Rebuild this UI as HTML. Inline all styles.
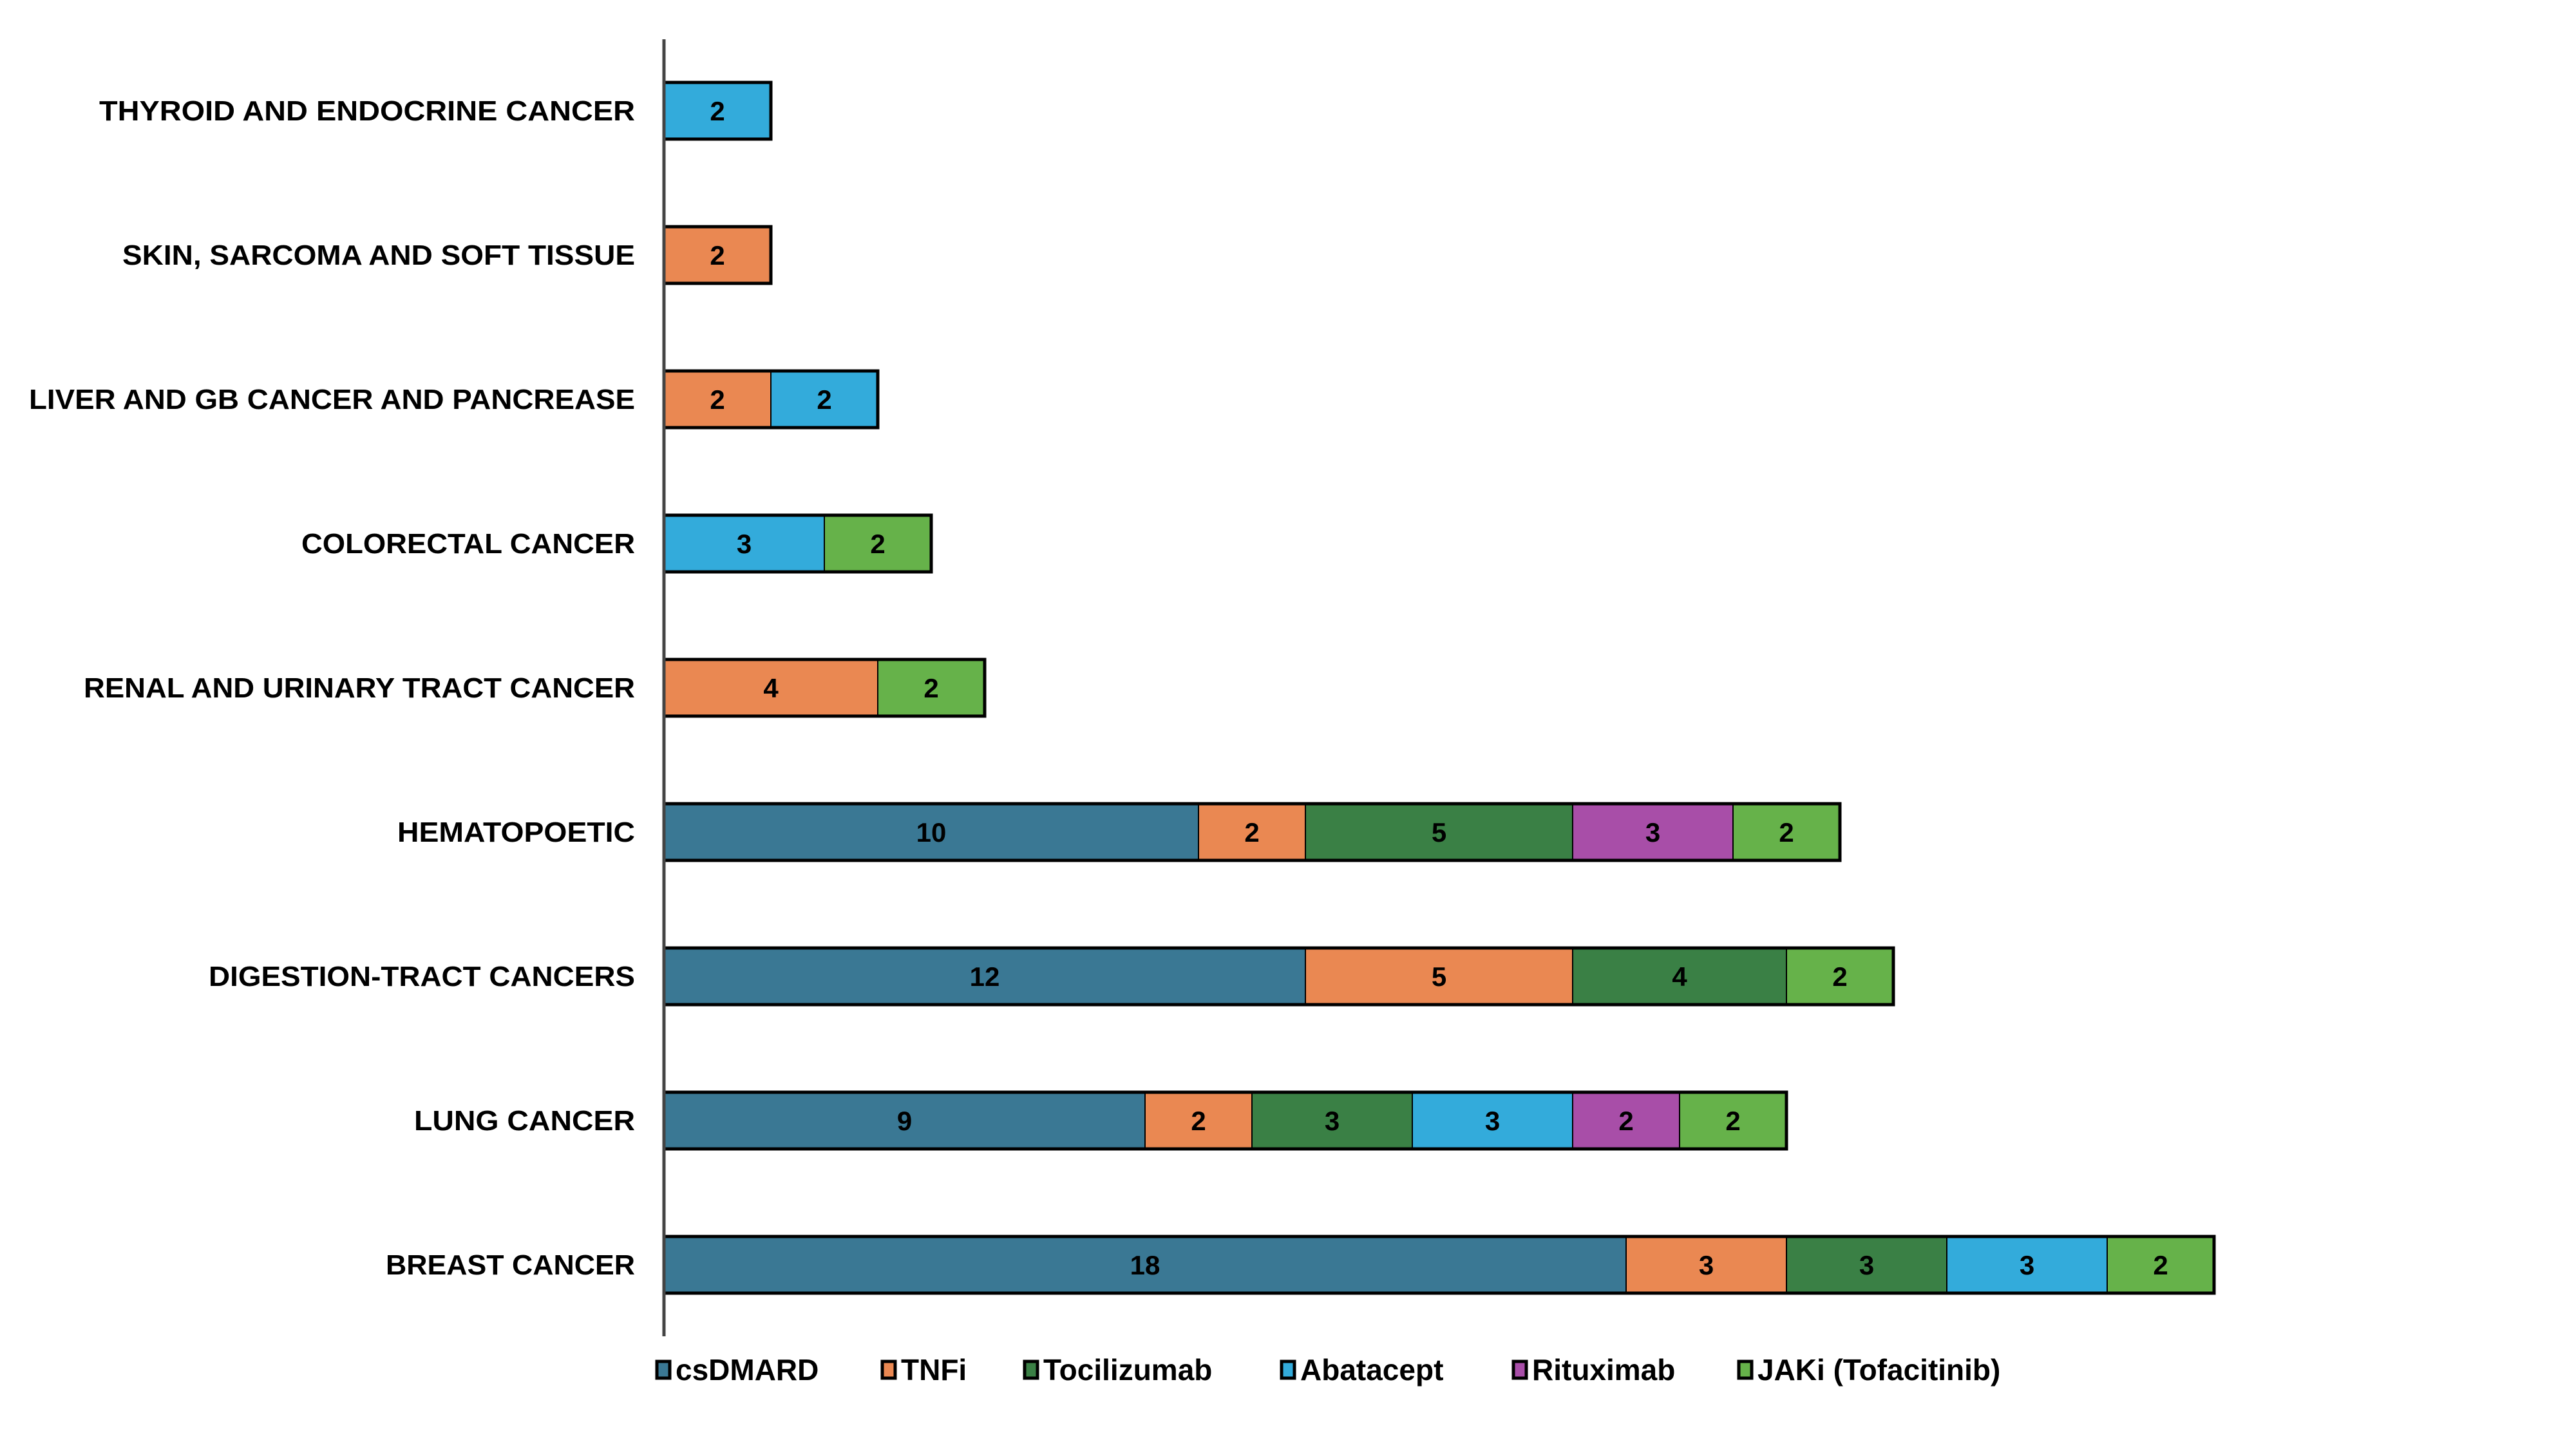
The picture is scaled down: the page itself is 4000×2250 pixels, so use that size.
<!DOCTYPE html>
<html><head><meta charset="utf-8"><style>
html,body{margin:0;padding:0;background:#fff;}
svg{display:block;font-family:"Liberation Sans",sans-serif;font-weight:bold;}
</style></head><body>
<svg id="chart" width="4000" height="2250" viewBox="0 0 4000 2250" xmlns="http://www.w3.org/2000/svg">
<rect width="4000" height="2250" fill="#fff"/>
<g id="bars"></g>
<line x1="1031" y1="61" x2="1031" y2="2075" stroke="#444" stroke-width="5"/>
<g id="labels"></g>
<g id="legend"></g>
</svg>
<script>
const categories = ["THYROID AND ENDOCRINE CANCER","SKIN, SARCOMA AND SOFT TISSUE","LIVER AND GB CANCER AND PANCREASE","COLORECTAL CANCER","RENAL AND URINARY TRACT CANCER","HEMATOPOETIC","DIGESTION-TRACT CANCERS","LUNG CANCER","BREAST CANCER"];
const seriesNames = ["csDMARD","TNFi","Tocilizumab","Abatacept","Rituximab","JAKi (Tofacitinib)"];
const csDMARD     = [0,0,0,0,0,10,12,9,18];
const TNFi        = [0,2,2,0,4,2,5,2,3];
const Tocilizumab = [0,0,0,0,0,5,4,3,3];
const Abatacept   = [2,0,2,3,0,0,0,3,3];
const Rituximab   = [0,0,0,0,0,3,0,2,0];
const JAKi        = [0,0,0,2,2,2,2,2,2];
const labelLeft   = [63,77,21,185,54,243,129,253,236];

const colors = ["#3A7894","#EA8852","#3A8045","#33ABDB","#A84EA8","#66B24A"];
const series = [csDMARD,TNFi,Tocilizumab,Abatacept,Rituximab,JAKi];
const NS = "http://www.w3.org/2000/svg";
const x0 = 1031, unit = 83.0;
const xs = v => x0 + v*unit;
const yc = i => 172 + i*224;
const bh = 88;
const bars = document.getElementById('bars');
const labels = document.getElementById('labels');
function mk(tag, attrs){const e=document.createElementNS(NS,tag);for(const k in attrs)e.setAttribute(k,attrs[k]);return e;}
categories.forEach((c,i)=>{
  const t = mk('text',{x:986,y:yc(i)+15,'text-anchor':'end','font-size':44,fill:'#000',textLength:((386-labelLeft[i])*2.577).toFixed(0),lengthAdjust:'spacingAndGlyphs'});
  
  
  t.textContent = c; labels.appendChild(t);
  let cum = 0;
  series.forEach((s,j)=>{
    const v = s[i]; if(!v) return;
    const r = mk('rect',{x:xs(cum),y:yc(i)-bh/2,width:v*unit,height:bh,fill:colors[j],stroke:'#000','stroke-width':2});
    
    
    bars.appendChild(r);
    const vt = mk('text',{x:xs(cum+v/2),y:yc(i)+15,'text-anchor':'middle','font-size':42,fill:'#000'});
    
    
    vt.textContent = v; labels.appendChild(vt);
    cum += v;
  });
  const o = mk('rect',{x:xs(0),y:yc(i)-bh/2,width:cum*unit,height:bh,fill:'none',stroke:'#000','stroke-width':5});
  
  
  bars.appendChild(o);
});
const legendX = [1017,1367,1588,1987,2347,2697];
const lg = document.getElementById('legend');
seriesNames.forEach((n,j)=>{
  const g = mk('g',{});
  
  
  const sq = mk('rect',{x:legendX[j]+3,y:2114,width:20,height:26,fill:colors[j],stroke:'#000','stroke-width':5});
  
  
  const t = mk('text',{x:legendX[j]+32,y:2143,'font-size':46,fill:'#000'});
  
  
  t.textContent = n;
  g.appendChild(sq); g.appendChild(t); lg.appendChild(g);
});
</script>
</body></html>
